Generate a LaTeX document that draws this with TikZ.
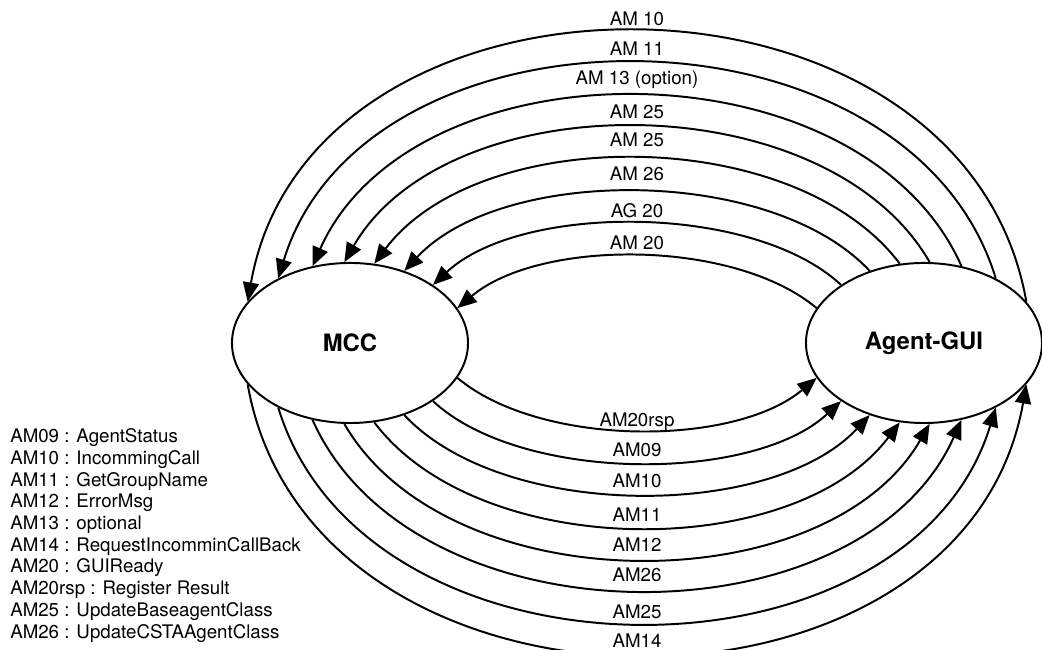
\documentclass[tikz,border=0pt]{standalone}
\usepackage{fontspec}
\setmainfont{TeX Gyre Heros}
\usetikzlibrary{arrows.meta}
\usetikzlibrary{shapes.geometric}

\tikzset{
  party/.style={draw, ellipse, line width=1.4pt, minimum width=5.9cm, minimum height=4cm,
    inner sep=0pt, font=\fontsize{17}{20}\selectfont\bfseries},
  msg/.style={line width=1.4pt, -{Triangle[length=0.48cm, width=0.4cm]}},
  msglabel/.style={font=\fontsize{13.3}{15.4}\selectfont, inner sep=0pt},
  legend/.style={align=left, inner sep=0pt, font=\fontsize{13.3}{15.43}\selectfont},
}

\begin{document}
\begin{tikzpicture}[x=0.025cm, y=0.025cm]
\useasboundingbox (0,0) rectangle (1042,650);

% Nodes
\node[party] (mcc) at (350,307) {MCC};
\node[party] (gui) at (924,307) {Agent-GUI};

% Messages Agent-GUI -> MCC (over the top)
\foreach \ang/\tng/\len/\dy/\txt in {22/80/365.6/13/AM 10, 42/73/299.8/15/AM 11,
    64/66/248.1/16/AM 13 (option), 86/60/207.8/15/AM 25, 107/53/175.3/19/AM 25,
    127/47/144/18/AM 26, 145/43/120.2/13/AG 20, 162/40/107.9/13/AM 20}{
  \pgfmathtruncatemacro\backang{180-\ang}
  \draw[msg] (gui.\ang) .. controls +(180-\tng:\len) and +(\tng:\len) .. (mcc.\backang)
    node[msglabel, midway, yshift=\dy*0.025cm] {\txt};
}

% Messages MCC -> Agent-GUI (underneath)
\foreach \ang/\tng/\len/\dy/\txt in {22/80/365.6/14/AM14, 42/73/299.8/11/AM25,
    64/66/248.1/15/AM26, 86/60/207.8/14/AM12, 107/53/175.3/13/AM11,
    127/47/144/13/AM10, 145/43/120.2/13/AM09, 162/40/107.9/8/AM20rsp}{
  \pgfmathtruncatemacro\startang{\ang-180}
  \pgfmathtruncatemacro\endang{-\ang}
  \draw[msg] (mcc.\startang) .. controls +(-\tng:\len) and +(\tng-180:\len) .. (gui.\endang)
    node[msglabel, midway, yshift=\dy*0.025cm] {\txt};
}

% Key
\node[legend, anchor=north west] (key) at (10,221.5) {AM09 : AgentStatus\\
  AM10 : IncommingCall\\
  AM11 : GetGroupName\\
  AM12 : ErrorMsg\\
  AM13 : optional\\
  AM14 : RequestIncomminCallBack\\
  AM20 : GUIReady\\
  AM20rsp : Register Result\\
  AM25 : UpdateBaseagentClass\\
  AM26 : UpdateCSTAAgentClass};

\end{tikzpicture}
\end{document}
